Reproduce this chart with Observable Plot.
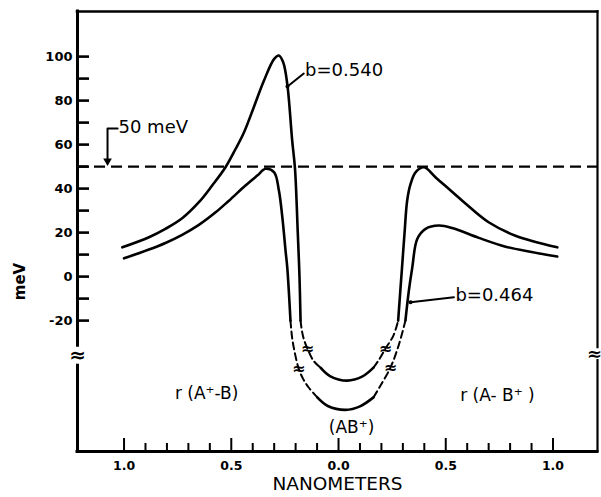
<!DOCTYPE html>
<html><head><meta charset="utf-8">
<script src="https://cdn.jsdelivr.net/npm/d3@7"></script>
<script src="https://cdn.jsdelivr.net/npm/@observablehq/plot@0.6"></script>
<style>body{margin:0;background:#fff}</style>
</head><body><div id="chart"></div>
<script>
// ---- axis ticks ----
const yMajor = [-20, 0, 20, 40, 60, 80, 100];
const yMinor = [-10, 10, 30, 50, 70, 90];
const xMajor = [-1, -0.5, 0, 0.5, 1];
const xMinor = [-0.9,-0.8,-0.7,-0.6,-0.4,-0.3,-0.2,-0.1,0.1,0.2,0.3,0.4,0.6,0.7,0.8,0.9];
const threshold = [50];

// ---- curve b = 0.540 (nm, meV; below -20 meV the axis is broken) ----
const b540_left_nm  = [-1.008,-0.884,-0.807,-0.729,-0.651,-0.589,-0.527,-0.48,-0.441,-0.395,-0.348,-0.30,-0.278,-0.258,-0.239,-0.216,-0.203,-0.19,-0.182,-0.177];
const b540_left_meV = [13.3,17.9,21.7,26.5,33.8,41.4,49.7,58,65.5,77,89,99,100.5,97.4,87.6,61.8,49.2,20,0,-20];
const b540_dashL_nm  = [-0.177,-0.170,-0.160,-0.145,-0.117,-0.084];
const b540_dashL_meV = [-20,-25,-29,-32.7,-38.2,-41.4];
const b540_well_nm  = [-0.084,-0.04,0.04,0.11,0.163];
const b540_well_meV = [-41.4,-45.2,-47.3,-45.5,-41.4];
const b540_dashR_nm  = [0.163,0.186,0.219,0.256,0.278];
const b540_dashR_meV = [-41.4,-38.2,-32.7,-26.8,-20];
const b540_right_nm  = [0.278,0.296,0.308,0.32,0.336,0.359,0.398,0.452,0.577,0.70,0.825,1.02];
const b540_right_meV = [-20,4,20,34.5,42.1,47.4,49.7,45.2,34.5,24.7,18.6,13.3];

// ---- curve b = 0.464 ----
const b464_left_nm  = [-1.0,-0.884,-0.807,-0.729,-0.651,-0.573,-0.511,-0.434,-0.379,-0.34,-0.30,-0.278,-0.262,-0.247,-0.239,-0.224];
const b464_left_meV = [8.3,12.3,15.3,19,23.5,29.2,34.5,41.4,45.9,49,47.4,39.1,27,11.8,4.2,-20];
const b464_dashL_nm  = [-0.224,-0.216,-0.203,-0.186,-0.165,-0.14,-0.099];
const b464_dashL_meV = [-20,-28,-35,-41.8,-46.5,-50.3,-54.9];
const b464_well_nm  = [-0.099,-0.05,0.033,0.10,0.163];
const b464_well_meV = [-54.9,-58.8,-60.6,-59,-54.9];
const b464_dashR_nm  = [0.163,0.196,0.242,0.28,0.312];
const b464_dashR_meV = [-54.9,-49.5,-41.4,-31.4,-20];
const b464_right_nm  = [0.312,0.328,0.344,0.367,0.406,0.468,0.53,0.654,0.779,0.90,1.02];
const b464_right_meV = [-20,-6.4,4.2,17.1,21.7,23.2,22.1,17.6,13.6,11.2,9.1];

// ---- break marks on the curves ----
const breakNm  = [-0.145, -0.186, 0.219, 0.242];
const breakMeV = [-32.7, -41.8, -32.7, -41.4];

// ---- annotations ----
const annText = ["50 meV", "b=0.540", "b=0.464"];
const annNm   = [-1.026, -0.156, 0.545];
const annMeV  = [67.7, 93.6, -8.6];
const regionText = ["r (A\u207A-B)", "r (A- B\u207A )", "(AB\u207A)"];
const regionNm   = [-0.615, 0.741, 0.061];
const regionMeV  = [-53.2, -54.1, -68.6];
const leader540_nm = [-0.238, -0.162], leader540_meV = [86.4, 92.3];
const leader464_nm = [0.336, 0.538],   leader464_meV = [-11.7, -9.4];
const bracket_nm = [-1.030, -1.077, -1.077], bracket_meV = [67.3, 67.3, 52.5];

// ---- layout ----
const W = 601, H = 497, ML = 77, MR = 4, MT = 11, MB = 46;
const xDom = [-1.217, 1.2075], yDom = [-79.5, 120.5];
const kx = (W - ML - MR) / (xDom[1] - xDom[0]);
const ky = (H - MT - MB) / (yDom[1] - yDom[0]);
const leftBreak = [-40.5, -31.4], rightBreak = [-38.2, -32.3];

const seg = (id, xs, ys) => xs.map((x, i) => ({id, x, y: ys[i]}));
const solid = [
  ...seg("A1", b540_left_nm, b540_left_meV),
  ...seg("A3", b540_well_nm, b540_well_meV),
  ...seg("A5", b540_right_nm, b540_right_meV),
  ...seg("B1", b464_left_nm, b464_left_meV),
  ...seg("B3", b464_well_nm, b464_well_meV),
  ...seg("B5", b464_right_nm, b464_right_meV)
];
const dashed = [
  ...seg("A2", b540_dashL_nm, b540_dashL_meV),
  ...seg("A4", b540_dashR_nm, b540_dashR_meV),
  ...seg("B2", b464_dashL_nm, b464_dashL_meV),
  ...seg("B4", b464_dashR_nm, b464_dashR_meV)
];
const leaders = [
  ...seg("L1", leader540_nm, leader540_meV),
  ...seg("L2", leader464_nm, leader464_meV),
  ...seg("L3", bracket_nm, bracket_meV)
];
const ann = annText.map((t, i) => ({t, x: annNm[i], y: annMeV[i]}));
const regions = regionText.map((t, i) => ({t, x: regionNm[i], y: regionMeV[i]}));
const breaks = breakNm.map((x, i) => ({x, y: breakMeV[i]}));

const FONT = "DejaVu Sans, Liberation Sans, sans-serif";

const chart = Plot.plot({
  width: W, height: H,
  marginLeft: ML, marginRight: MR, marginTop: MT, marginBottom: MB,
  x: {domain: xDom, axis: null},
  y: {domain: yDom, axis: null},
  style: {fontFamily: FONT, background: "white", color: "black"},
  marks: [
    // frame
    Plot.ruleY([yDom[1]], {x1: xDom[0], x2: xDom[1], strokeWidth: 2.6, strokeLinecap: "square"}),
    Plot.ruleY([yDom[0]], {x1: xDom[0], x2: xDom[1], strokeWidth: 3, strokeLinecap: "square"}),
    Plot.ruleX([xDom[0], xDom[0]], {y1: [yDom[0], leftBreak[1]], y2: [leftBreak[0], yDom[1]], x: d => d, strokeWidth: 3, strokeLinecap: "square"}),
    Plot.ruleX([xDom[1], xDom[1]], {y1: [yDom[0], rightBreak[1]], y2: [rightBreak[0], yDom[1]], x: d => d, strokeWidth: 2.2, strokeLinecap: "square"}),
    Plot.text(["\u2248"], {x: xDom[0], y: (leftBreak[0] + leftBreak[1]) / 2, fontSize: 20, fontWeight: "bold"}),
    Plot.text(["\u2248"], {x: xDom[1], y: (rightBreak[0] + rightBreak[1]) / 2, dx: -3, fontSize: 18, fontWeight: "bold"}),
    // y ticks (inside)
    Plot.ruleY(yMajor.concat(yMinor), {y: d => d, x1: xDom[0], x2: xDom[0] + 12 / kx, strokeWidth: 2.6}),
    Plot.text(yMajor, {x: xDom[0], y: d => d, text: d => String(d), textAnchor: "end", dx: -5, fontSize: 13, fontWeight: "bold"}),
    // x ticks (inside)
    Plot.ruleX(xMajor, {x: d => d, y1: yDom[0], y2: yDom[0] + 13 / ky, strokeWidth: 2}),
    Plot.ruleX(xMinor, {x: d => d, y1: yDom[0], y2: yDom[0] + 8 / ky, strokeWidth: 2}),
    Plot.text(xMajor, {x: d => d, y: yDom[0], text: d => Math.abs(d).toFixed(1), dy: 14, fontSize: 12.5, fontWeight: "bold"}),
    // axis titles
    Plot.text(["NANOMETERS"], {frameAnchor: "bottom", dy: 38, fontSize: 18.5}),
    Plot.text(["meV"], {x: xDom[0], y: (yDom[0] + yDom[1]) / 2, dx: -57, dy: 50, rotate: -90, fontSize: 15, fontWeight: "bold"}),
    // 50 meV dashed level
    Plot.ruleY(threshold, {x1: xDom[0], x2: xDom[1], strokeWidth: 2.4, strokeDasharray: "11,6"}),
    // curves
    Plot.line(solid, {x: "x", y: "y", z: "id", curve: "catmull-rom", strokeWidth: 2.6, strokeLinejoin: "round"}),
    Plot.line(dashed, {x: "x", y: "y", z: "id", curve: "catmull-rom", strokeWidth: 2, strokeDasharray: "7,4"}),
    Plot.text(breaks, {x: "x", y: "y", text: () => "\u2248", fontSize: 16, fontWeight: "bold"}),
    // leaders and annotations
    Plot.line(leaders, {x: "x", y: "y", z: "id", strokeWidth: 2}),
    Plot.dot([{x: leader540_nm[0], y: leader540_meV[0]}, {x: leader464_nm[0], y: leader464_meV[0]}], {x: "x", y: "y", r: 2, fill: "black", stroke: null}),
    Plot.dot([{x: bracket_nm[2], y: bracket_meV[2]}], {x: "x", y: "y", symbol: "triangle", rotate: 180, r: 3.2, fill: "black", stroke: null}),
    Plot.text(ann, {x: "x", y: "y", text: "t", textAnchor: "start", fontSize: 18}),
    Plot.text(regions, {x: "x", y: "y", text: "t", fontSize: 17})
  ]
});
document.getElementById("chart").appendChild(chart);
</script>
</body></html>
